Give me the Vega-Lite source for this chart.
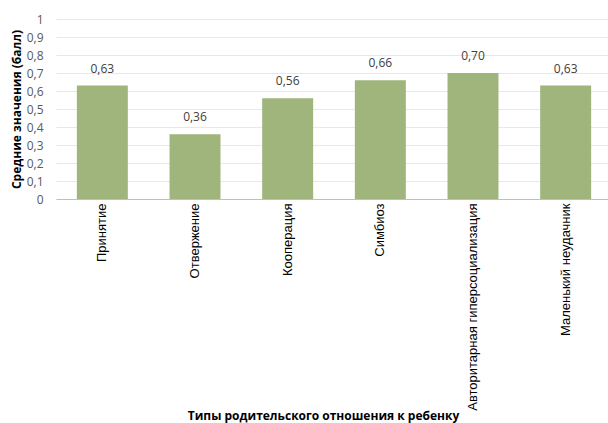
{
  "$schema": "https://vega.github.io/schema/vega-lite/v6.json",
  "autosize": "none",
  "width": 556,
  "height": 180,
  "padding": {"left": 56, "top": 19, "right": 0, "bottom": 224},
  "background": "white",
  "config": {"view": {"stroke": null}, "font": "Open Sans",
    "locale": {"number": {"decimal": ",", "thousands": " ", "grouping": [3], "currency": ["", ""]}}},
  "data": {"values": [
    {"type": "Принятие", "value": 0.63},
    {"type": "Отвержение", "value": 0.36},
    {"type": "Кооперация", "value": 0.56},
    {"type": "Симбиоз", "value": 0.66},
    {"type": "Авторитарная гиперсоциализация", "value": 0.70},
    {"type": "Маленький неудачник", "value": 0.63}
  ]},
  "encoding": {
    "x": {"field": "type", "type": "nominal", "sort": null,
      "scale": {"paddingInner": 0.45, "paddingOuter": 0.225},
      "axis": {"title": "Типы родительского отношения к ребенку", "labelAngle": -90, "labelFont": "Liberation Sans", "labelFontSize": 13, "labelColor": "#000000", "labelPadding": 4, "labelLimit": 300, "ticks": false, "domainColor": "#BFBFBF", "titleFont": "Open Sans", "titleFontSize": 12, "titleFontWeight": "bold", "titleColor": "#000000", "titlePadding": 11, "titleX": 267, "titleAlign": "center"}},
    "y": {"field": "value", "type": "quantitative",
      "scale": {"domain": [0, 1]},
      "axis": {"title": "Средние значения (балл)", "values": [0,0.1,0.2,0.3,0.4,0.5,0.6,0.7,0.8,0.9,1], "format": ".1~f", "domain": false, "ticks": false, "labelPadding": 13, "labelFont": "Open Sans", "labelFontSize": 12, "labelColor": "#595959", "gridColor": "#E8E8E8", "titleFont": "Open Sans", "titleFontSize": 12, "titleFontWeight": "bold", "titleColor": "#000000", "titlePadding": 3}}
  },
  "layer": [
    {"mark": {"type": "bar", "color": "#9FB57C"}},
    {"mark": {"type": "text", "baseline": "alphabetic", "dy": -13, "fontSize": 12, "font": "Open Sans", "color": "#404040"},
      "encoding": {"text": {"field": "value", "type": "quantitative", "format": ".2f"}}}
  ]
}
